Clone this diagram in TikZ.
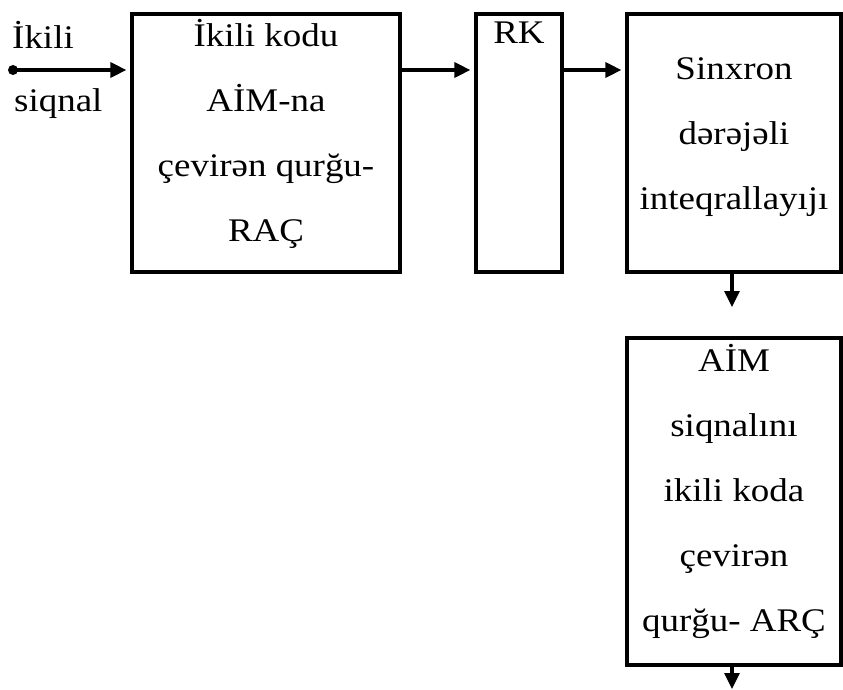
\documentclass[tikz,border=0pt]{standalone}
\usepackage{fontspec}
\setmainfont{Liberation Serif}[FakeStretch=1.12]
\usepackage{tikz}
\usetikzlibrary{
  arrows.meta,
  positioning
}

\begin{document}
\begin{tikzpicture}[
  x=1pt,y=-1pt,
  blk/.style={draw,line width=3.2pt,inner sep=0pt},
  txt/.style={inner sep=0pt,align=center,font=\fontsize{33}{65}\selectfont},
  lbl/.style={txt,anchor=base west},
  arrow/.style={-{Triangle[length=16pt,width=15pt]},line width=3.2pt},
  dot/.style={circle,fill,inner sep=0pt,minimum size=10pt}
]
\useasboundingbox (0,0) rectangle (843,690);

% ---- input ----
\node[dot] (in) at (13,70) {};
\node[lbl] (in1) at (12,49)  {İkili};
\node[lbl] (in2) at (14,112) {siqnal};

% ---- top row ----
\node[blk,minimum width=268pt,minimum height=258pt] (rac) at (266,143) {};
\node[txt] (rac-t) at ([yshift=9pt]rac.center)
  {İkili kodu\\AİM-na\\çevirən qurğu-\\RAÇ};
\node[blk,minimum width=86pt,minimum height=258pt] (rk) at (519,143) {};
\node[txt,anchor=base] (rk-t) at (519,44) {RK};
\node[blk,minimum width=214pt,minimum height=258pt] (int) at (734,143) {};
\node[txt] (int-t) at ([yshift=6pt]int.center)
  {Sinxron\\dərəjəli\\inteqrallayıjı};

% ---- output block ----
\node[blk,minimum width=214pt,minimum height=327pt] (arc) at (734,501.5) {};
\node[txt] (arc-t) at ([yshift=10pt]arc.center)
  {AİM\\siqnalını\\ikili koda\\çevirən\\qurğu- ARÇ};
\coordinate (o1) at (732,307);
\coordinate (o2) at (732,689);

% ---- connectors (all at the level of the input dot) ----
\draw[arrow,shorten >=4pt] (in.center) -- (in -| rac.west);
\draw[arrow,shorten >=4pt] (rac.east |- in) -- (rk.west |- in);
\draw[arrow,shorten >=4pt] (rk.east |- in) -- (int.west |- in);
\draw[arrow] (int.south -| o1) -- (o1);
\draw[arrow] (arc.south -| o2) -- (o2);
\end{tikzpicture}
\end{document}
